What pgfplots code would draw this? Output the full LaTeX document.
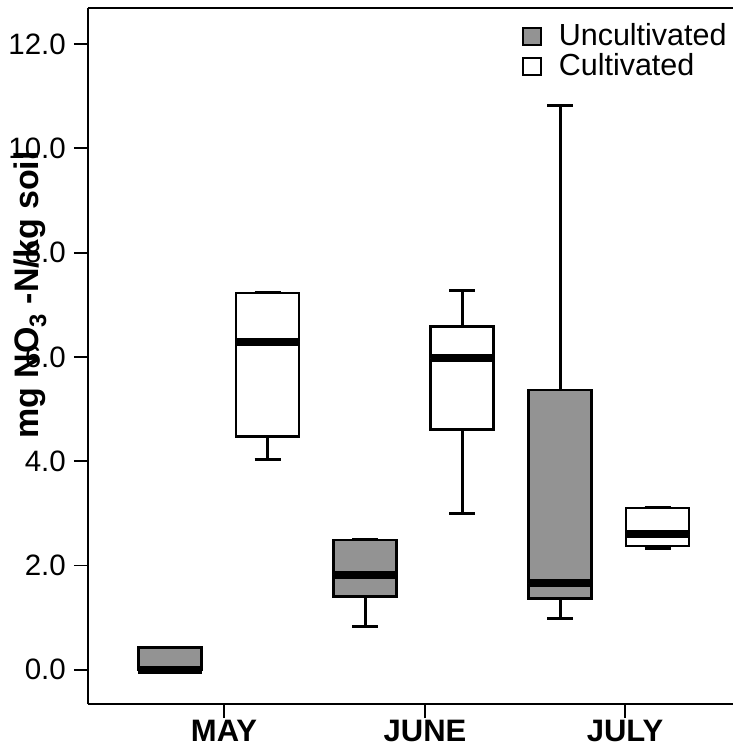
\documentclass[border=0pt]{standalone}
\usepackage{fontspec}
\setmainfont{Liberation Sans}
\usepackage{pgfplots}
\pgfplotsset{compat=1.18}
\usepgfplotslibrary{statistics}
\definecolor{ugray}{RGB}{147,147,147}
\begin{document}
\begin{tikzpicture}
\begin{axis}[
  name=ax, at={(88pt,44pt)}, anchor=south west,
  scale only axis, width=645pt, height=696pt,
  xmin=88, xmax=733, ymin=-0.655, ymax=12.69,
  axis x line=box, axis y line=left,
  axis line style={-, line width=1.3pt, black},
  xtick={224,425,625}, xticklabels={MAY,JUNE,JULY},
  xtick pos=left, ytick pos=left,
  ytick={0,2,4,6,8,10,12},
  /pgf/number format/assume math mode=true,
  yticklabel style={/pgf/number format/fixed, /pgf/number format/fixed zerofill, /pgf/number format/precision=1,
    font=\fontsize{29.5}{32}\selectfont, inner sep=0pt, xshift=-8pt},
  xticklabel style={font=\bfseries\fontsize{31}{34}\selectfont, inner sep=0pt, yshift=-2pt},
  tick align=outside, major tick length=14pt,
  tick style={line width=1.8pt, black},
  ylabel={mg NO\textsubscript{3} -N/kg soil},
  every axis y label/.style={at={(axis description cs:-0.0899,0.5876)}, rotate=90, anchor=center,
    font=\bfseries\fontsize{34}{37}\selectfont},
  boxplot/draw direction=y,
  boxplot/every box/.style={line width=2.5pt},
  boxplot/every whisker/.style={line width=3pt},
  boxplot/every median/.style={line width=8pt},
  boxplot/box extend=63, boxplot/whisker extend=26,
  legend style={draw=none, fill=none, at={(rel axis cs:0.673,0.981)}, anchor=north west,
    font=\fontsize{30.5}{33}\selectfont, inner sep=0pt, row sep=2pt,
    /tikz/every odd column/.append style={column sep=15pt}},
  legend cell align=left,
  legend image code/.code={\draw[#1, line width=1.5pt] (0pt,-10pt) rectangle (18pt,7pt);},
]
\addlegendimage{draw=black, fill=ugray}
\addlegendentry{Uncultivated}
\addlegendimage{draw=black, fill=white}
\addlegendentry{Cultivated}
% May
\addplot[draw=black, fill=ugray, boxplot prepared={draw position=170, lower whisker=0.0, lower quartile=0.0, median=0.0, upper quartile=0.43, upper whisker=0.43}] coordinates {};
\addplot[draw=black, fill=white, boxplot prepared={draw position=267.5, lower whisker=4.04, lower quartile=4.47, median=6.29, upper quartile=7.23, upper whisker=7.23}] coordinates {};
% June
\addplot[draw=black, fill=ugray, boxplot prepared={draw position=365, lower whisker=0.84, lower quartile=1.41, median=1.82, upper quartile=2.49, upper whisker=2.49}] coordinates {};
\addplot[draw=black, fill=white, boxplot prepared={draw position=462, lower whisker=3.00, lower quartile=4.61, median=5.97, upper quartile=6.58, upper whisker=7.27}] coordinates {};
% July
\addplot[draw=black, fill=ugray, boxplot prepared={draw position=560, lower whisker=0.99, lower quartile=1.37, median=1.66, upper quartile=5.37, upper whisker=10.83}] coordinates {};
\addplot[draw=black, fill=white, boxplot prepared={draw position=657.5, lower whisker=2.33, lower quartile=2.37, median=2.60, upper quartile=3.10, upper whisker=3.11}] coordinates {};
\end{axis}
\pgfresetboundingbox
\path[use as bounding box] (0,0) rectangle (733pt,748pt);
\end{tikzpicture}
\end{document}
